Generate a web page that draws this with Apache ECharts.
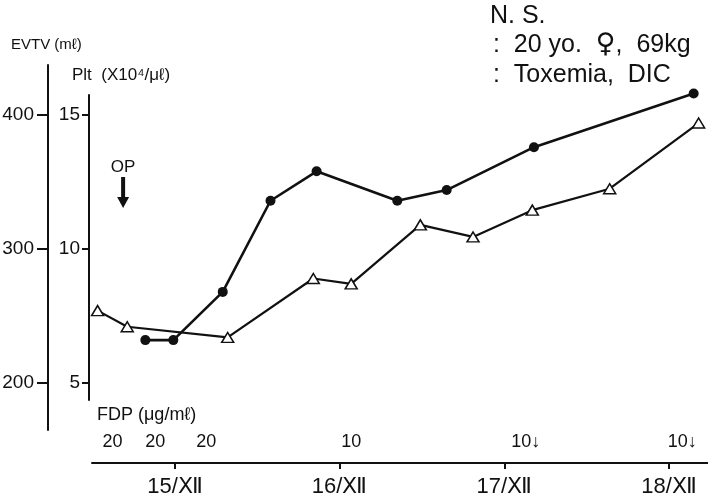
<!DOCTYPE html>
<html><head><meta charset="utf-8">
<script src="https://cdn.jsdelivr.net/npm/echarts@6/dist/echarts.min.js"></script>
<style>html,body{margin:0;padding:0;background:#fff}#c{width:708px;height:503px}</style>
</head><body><div id="c"></div>
<script>
// ---- data ----
const tickDays = [15, 16, 17, 18];
const tickLabels = ['15/Ⅻ', '16/Ⅻ', '17/Ⅻ', '18/Ⅻ'];
const evtvTicks = [200, 300, 400];
const pltTicks = [5, 10, 15];
// Plt (×10^4/μl), filled circles
const pltDays   = [14.82, 14.99, 15.29, 15.58, 15.86, 16.35, 16.65, 17.18, 18.15];
const pltValues = [6.6, 6.6, 8.4, 11.8, 12.9, 11.8, 12.2, 13.8, 15.8];
// EVTV (ml), open triangles
const evtvDays   = [14.53, 14.71, 15.32, 15.84, 16.07, 16.49, 16.81, 17.17, 17.64, 18.18];
const evtvValues = [254, 242, 234, 278, 274, 318, 309, 329, 345, 394];
// FDP (μg/ml)
const fdpDays   = [14.62, 14.88, 15.19, 16.07, 17.13, 18.08];
const fdpLabels = ['20', '20', '20', '10', '10↓', '10↓'];
const opDay = 14.685;

const FONT = "'Liberation Sans', Arial, sans-serif";
const chart = echarts.init(document.getElementById('c'), null, {renderer: 'canvas'});

const option = {
  animation: false,
  backgroundColor: '#fff',
  grid: [
    {left: 92, right: 0, top: 65, bottom: 40},
    {left: 47, width: 1, top: 65, bottom: 73},
    {left: 89, width: 1, top: 95, bottom: 103}
  ],
  xAxis: [
    {
      gridIndex: 0, type: 'value', min: 14.496, max: 18.237,
      splitLine: {show: false},
      axisLine: {lineStyle: {color: '#111', width: 2}},
      axisTick: {customValues: tickDays, length: 6, lineStyle: {color: '#111', width: 2}},
      axisLabel: {
        customValues: tickDays, margin: 13, color: '#111', fontSize: 22, fontFamily: FONT,
        formatter: v => tickLabels[tickDays.indexOf(Math.round(v))]
      }
    },
    {gridIndex: 1, type: 'value', min: 0, max: 1, show: false},
    {gridIndex: 2, type: 'value', min: 0, max: 1, show: false}
  ],
  yAxis: [
    {gridIndex: 0, type: 'value', min: 140.30, max: 437.31, show: false, splitLine: {show: false}},
    {gridIndex: 0, type: 'value', min: 2.015, max: 16.866, show: false, splitLine: {show: false}},
    {
      gridIndex: 1, type: 'value', min: 164.93, max: 437.31, position: 'left',
      splitLine: {show: false},
      axisLine: {show: true, lineStyle: {color: '#111', width: 2}},
      axisTick: {customValues: evtvTicks, length: 11, lineStyle: {color: '#111', width: 2}},
      axisLabel: {customValues: evtvTicks, margin: 14, color: '#111', fontSize: 19, fontFamily: FONT}
    },
    {
      gridIndex: 2, type: 'value', min: 4.366, max: 15.746, position: 'left',
      splitLine: {show: false},
      axisLine: {show: true, lineStyle: {color: '#111', width: 2}},
      axisTick: {customValues: pltTicks, length: 7, lineStyle: {color: '#111', width: 2}},
      axisLabel: {customValues: pltTicks, margin: 9, color: '#111', fontSize: 19, fontFamily: FONT}
    }
  ],
  series: [
    {
      name: 'EVTV', type: 'line', xAxisIndex: 0, yAxisIndex: 0,
      data: evtvDays.map((d, i) => [d, evtvValues[i]]),
      symbol: 'triangle', symbolSize: [12, 10],
      itemStyle: {color: '#fff', borderColor: '#111', borderWidth: 1.5},
      lineStyle: {color: '#111', width: 2.2}, z: 3
    },
    {
      name: 'Plt', type: 'line', xAxisIndex: 0, yAxisIndex: 1,
      data: pltDays.map((d, i) => [d, pltValues[i]]),
      symbol: 'circle', symbolSize: 10,
      itemStyle: {color: '#111', borderColor: '#111', borderWidth: 0},
      lineStyle: {color: '#111', width: 2.6}, z: 4
    }
  ]
};
chart.setOption(option);

const g = [];
const txt = (x, y, s, size, align) => g.push({
  type: 'text', x: x, y: y,
  style: {text: s, fill: '#111', font: size + 'px ' + FONT, textAlign: align || 'left', textVerticalAlign: 'middle'}
});

txt(490, 16, 'N. S.', 25);
g.push({
  type: 'text', x: 493, y: 45,
  style: {
    text: ':  20 yo.  {f|♀},  69kg', fill: '#111', font: '25px ' + FONT, textVerticalAlign: 'middle',
    rich: {f: {fontSize: 27, fontFamily: "'DejaVu Sans', sans-serif", fill: '#111'}}
  }
});
txt(493, 75, ':  Toxemia,  DIC', 25);
txt(11, 45, 'EVTV (mℓ)', 15);
txt(72, 75, 'Plt  (X10⁴/μℓ)', 17);
txt(97, 415, 'FDP (μg/mℓ)', 18);

fdpDays.forEach((d, i) => {
  const px = chart.convertToPixel({xAxisIndex: 0}, d);
  txt(px, 442, fdpLabels[i], 18, 'center');
});

const opX = chart.convertToPixel({xAxisIndex: 0}, opDay);
txt(opX, 167, 'OP', 17, 'center');
g.push({type: 'rect', shape: {x: opX - 2, y: 177, width: 4, height: 22}, style: {fill: '#111'}});
g.push({type: 'polygon', shape: {points: [[opX - 6, 197], [opX + 6, 197], [opX, 208]]}, style: {fill: '#111'}});

chart.setOption({graphic: g});
</script>
</body></html>
